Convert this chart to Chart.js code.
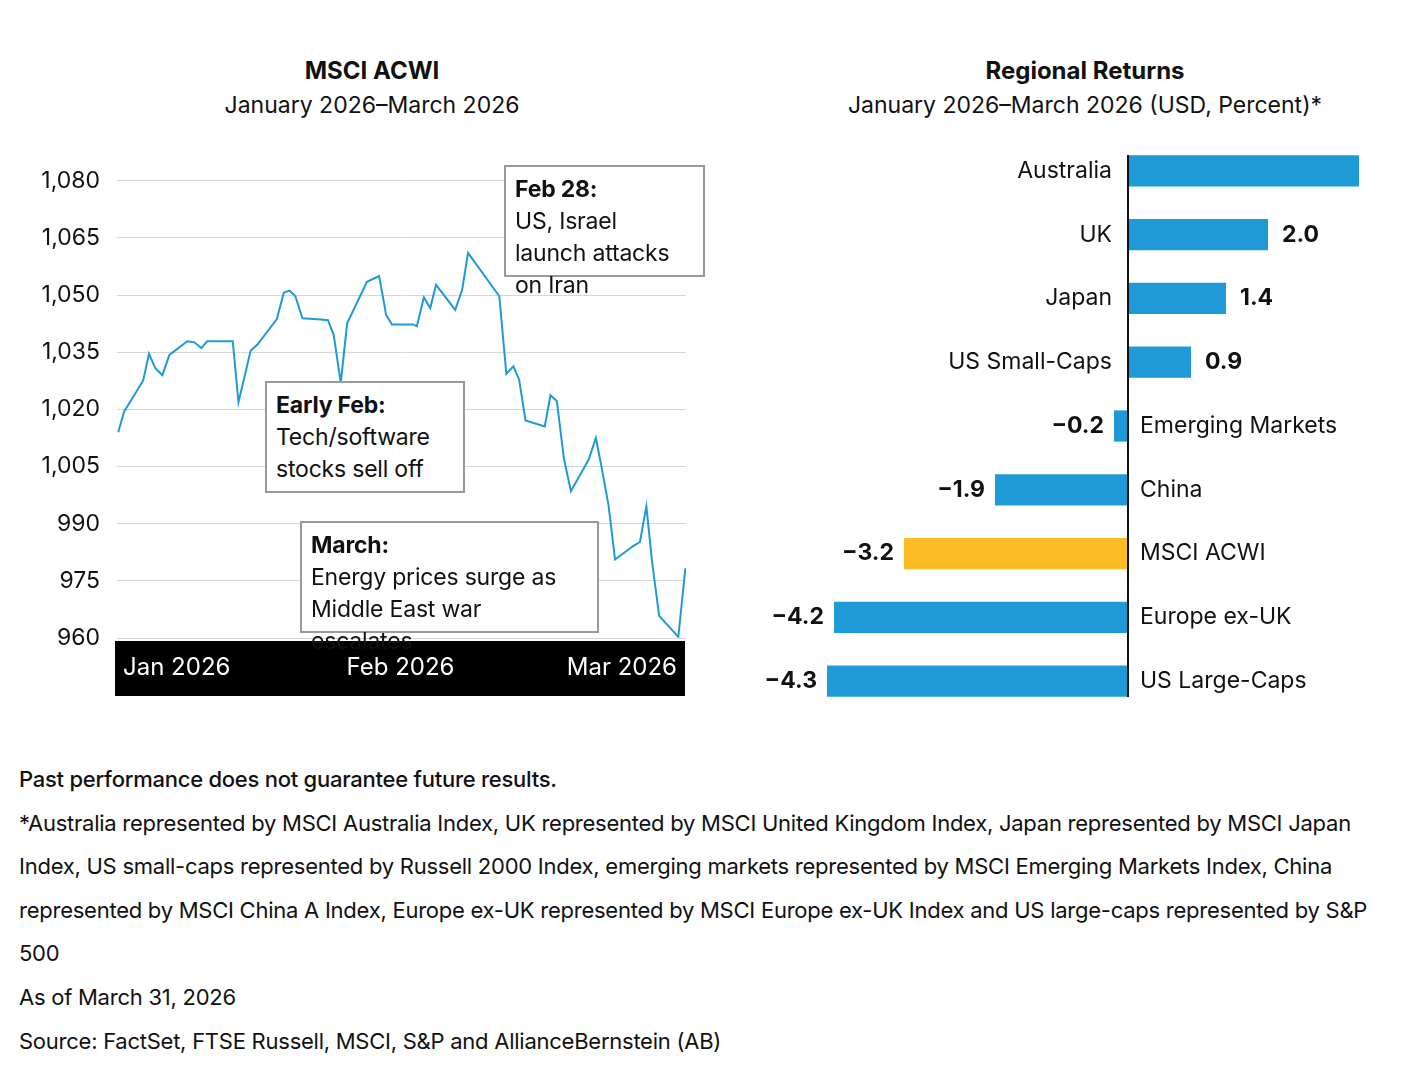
<!DOCTYPE html>
<html><head><meta charset="utf-8">
<script src="https://cdn.jsdelivr.net/npm/chart.js@4/dist/chart.umd.min.js"></script>
<style>
body{margin:0;background:#fff;font-family:Inter,"Open Sans",sans-serif;color:#111;width:1401px;height:1068px;position:relative;overflow:hidden}
.abs{position:absolute}
.t{font-weight:700;font-size:24px;text-align:center}
.s{font-size:23px;text-align:center}
.box{position:absolute;border:2px solid #999;background:#fff;font-size:23px;line-height:32px;padding:6px 9px;box-sizing:border-box;letter-spacing:-0.2px}
.box b{display:block;margin-bottom:0}
.fn{position:absolute;left:19px;font-size:22px;line-height:43.6px;width:1370px;letter-spacing:-0.25px}
</style></head><body>
<div class="abs t" style="left:172px;width:400px;top:56px">MSCI ACWI</div>
<div class="abs s" style="left:122px;width:500px;top:91px">January 2026–March 2026</div>
<div class="abs t" style="left:885px;width:400px;top:56px">Regional Returns</div>
<div class="abs s" style="left:785px;width:600px;top:91px">January 2026–March 2026 (USD, Percent)*</div>
<div class="abs" style="left:20px;top:150px;width:666px;height:550px"><canvas id="c1"></canvas></div>
<div class="abs" style="left:740px;top:139px;width:640px;height:574px"><canvas id="c2"></canvas></div>
<div class="box" style="left:504px;top:165px;width:201px;height:112px"><b>Feb 28:</b>US, Israel launch attacks on Iran</div>
<div class="box" style="left:265px;top:381px;width:200px;height:112px"><b>Early Feb:</b>Tech/software stocks sell off</div>
<div class="box" style="left:300px;top:521px;width:299px;height:112px"><b>March:</b>Energy prices surge as Middle East war escalates</div>
<div class="fn" style="top:758px"><span style="font-weight:500">Past performance does not guarantee future results.</span><br>*Australia represented by MSCI Australia Index, UK represented by MSCI United Kingdom Index, Japan represented by MSCI Japan Index, US small-caps represented by Russell 2000 Index, emerging markets represented by MSCI Emerging Markets Index, China represented by MSCI China A Index, Europe ex-UK represented by MSCI Europe ex-UK Index and US large-caps represented by S&amp;P 500<br>As of March 31, 2026<br>Source: FactSet, FTSE Russell, MSCI, S&amp;P and AllianceBernstein (AB)</div>
<script>
const acwiDays=[1.2,2.1,3.5,5.1,6.0,7.0,8.1,9.2,12.0,13.1,14.2,15.1,19.1,20.0,21.9,23.0,26.0,27.1,28.0,28.9,30.0,32.9,34.0,34.9,36.0,37.0,40.1,42.0,43.1,44.0,47.3,47.9,49.0,50.0,50.9,53.9,55.0,55.9,60.8,61.9,63.0,63.9,64.9,67.9,68.8,69.8,70.9,72.0,74.8,75.9,76.8,77.9,78.9,81.8,82.8,83.8,84.7,85.8,88.8,89.9];
const acwiValues=[1014.0,1019.4,1023.2,1027.6,1034.6,1030.8,1029.0,1034.3,1037.9,1037.6,1036.1,1037.9,1037.9,1021.9,1035.4,1037.1,1043.7,1050.7,1051.2,1049.7,1043.9,1043.6,1043.4,1039.5,1027.0,1042.6,1053.5,1055.0,1044.8,1042.3,1042.3,1041.8,1049.4,1046.6,1052.7,1046.1,1051.5,1061.1,1049.7,1029.3,1031.3,1027.8,1017.1,1015.5,1023.7,1022.2,1007.1,998.5,1006.9,1012.5,1004.8,994.6,980.6,984.2,985.2,994.6,979.9,965.8,960.3,978.3];
const monthLabels=["Jan 2026","Feb 2026","Mar 2026"];
const regions=["Australia","UK","Japan","US Small-Caps","Emerging Markets","China","MSCI ACWI","Europe ex-UK","US Large-Caps"];
const regionReturns=[3.3,2.0,1.4,0.9,-0.2,-1.9,-3.2,-4.2,-4.3];
const regionLabels=["","2.0","1.4","0.9","\u22120.2","\u22121.9","\u22123.2","\u22124.2","\u22124.3"];
const FONT="Inter, 'Open Sans', sans-serif";
Chart.defaults.font.family=FONT;

const band={id:'band',beforeDraw(c){const ctx=c.ctx,a=c.chartArea;ctx.save();ctx.fillStyle='#000';ctx.fillRect(a.left-2,a.bottom+3,a.right-a.left+1,55);
ctx.fillStyle='#fff';ctx.font='24px '+FONT;ctx.textBaseline='middle';const y=a.bottom+30;
ctx.textAlign='left';ctx.fillText(monthLabels[0],a.left+6,y);ctx.textAlign='center';ctx.fillText(monthLabels[1],(a.left+a.right)/2-1,y);ctx.textAlign='right';ctx.fillText(monthLabels[2],a.right-9,y);ctx.restore();}};
new Chart(document.getElementById('c1'),{type:'line',
data:{datasets:[{data:acwiDays.map((d,i)=>({x:d,y:acwiValues[i]})),borderColor:'#1e9ad6',borderWidth:2,pointRadius:0,tension:0}]},
options:{responsive:true,maintainAspectRatio:false,animation:false,layout:{padding:{top:17,bottom:62,right:0}},
plugins:{legend:{display:false},tooltip:{enabled:false}},
scales:{x:{type:'linear',min:1,max:90,display:false},
y:{min:960,max:1080,afterFit(s){s.width=97},border:{display:false},grid:{color:'#d6d6d6',lineWidth:1,drawTicks:false},
ticks:{stepSize:15,padding:17,color:'#111',font:{size:23},callback:v=>v.toLocaleString('en-US')}}}},plugins:[band]});

const barLabels={id:'bl',afterDraw(c){const ctx=c.ctx,m=c.getDatasetMeta(0),x0=c.scales.x.getPixelForValue(0);ctx.save();ctx.textBaseline='middle';
m.data.forEach((b,i)=>{const v=regionReturns[i],y=b.y;ctx.fillStyle='#111';
if(v>=0){ctx.font='23px '+FONT;ctx.textAlign='right';ctx.fillText(regions[i],x0-16,y);ctx.font='bold 23px '+FONT;ctx.textAlign='left';ctx.fillText(regionLabels[i],b.x+14,y);}
else{ctx.font='23px '+FONT;ctx.textAlign='left';ctx.fillText(regions[i],x0+12,y);ctx.font='bold 23px '+FONT;ctx.textAlign='right';ctx.fillText(regionLabels[i],b.x-10,y);}});
ctx.strokeStyle='#111';ctx.lineWidth=2;ctx.beginPath();ctx.moveTo(x0,c.chartArea.top+16);ctx.lineTo(x0,c.chartArea.bottom-16);ctx.stroke();ctx.restore();}};
new Chart(document.getElementById('c2'),{type:'bar',
data:{labels:regions,datasets:[{data:regionReturns,backgroundColor:regions.map(r=>r==='MSCI ACWI'?'#fbbc24':'#1e9bd7'),categoryPercentage:1,barPercentage:0.49}]},
options:{indexAxis:'y',responsive:true,maintainAspectRatio:false,animation:false,layout:{padding:0},
plugins:{legend:{display:false},tooltip:{enabled:false}},
scales:{x:{min:-5.543,max:3.6,display:false},y:{display:false}}},plugins:[barLabels]});
</script></body></html>
